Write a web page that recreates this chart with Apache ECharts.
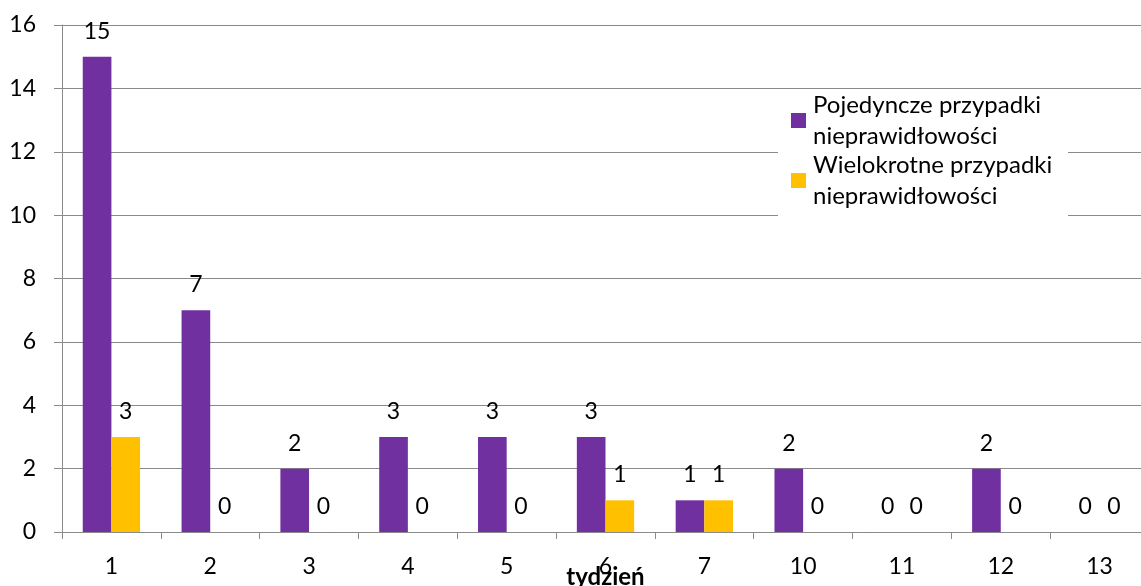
<!DOCTYPE html>
<html>
<head>
<meta charset="utf-8">
<script src="https://cdn.jsdelivr.net/npm/echarts@6/dist/echarts.min.js"></script>
<style>
  html, body { margin: 0; padding: 0; background: #fff; }
  #chart { width: 1141px; height: 586px; }
</style>
</head>
<body>
<div id="chart"></div>
<script>
// Week numbers on the category axis
const weeks = ['1', '2', '3', '4', '5', '6', '7', '10', '11', '12', '13'];
// Counts per week
const singleCases = [15, 7, 2, 3, 3, 3, 1, 2, 0, 2, 0];
const multipleCases = [3, 0, 0, 0, 0, 1, 1, 0, 0, 0, 0];
const seriesNames = ['Pojedyncze przypadki\nnieprawidłowości', 'Wielokrotne przypadki\nnieprawidłowości'];
const axisTitle = 'tydzień';

const FONT = 'Lato';
const FS = 23;
const GRAY = '#8a8a8a';

const chart = echarts.init(document.getElementById('chart'), null, { renderer: 'canvas' });

const barLabel = {
  show: true,
  position: 'top',
  distance: 14,
  color: '#000',
  fontFamily: FONT,
  fontSize: FS
};

const legendText = {
  fontFamily: FONT,
  fontSize: 24,
  lineHeight: 31,
  color: '#000',
  padding: [31, 0, 0, 2]
};

chart.setOption({
  animation: false,
  backgroundColor: '#fff',
  grid: { left: 62, right: -8, top: 25, bottom: 54, containLabel: false, outerBoundsMode: 'none' },
  xAxis: {
    type: 'category',
    data: weeks,
    name: axisTitle,
    nameLocation: 'middle',
    nameGap: 33,
    nameMoveOverlap: false,
    nameTextStyle: { fontFamily: FONT, fontSize: 24, fontWeight: 'bold', color: '#000' },
    axisLine: { show: true, lineStyle: { color: GRAY, width: 1 } },
    axisTick: { show: true, length: 7, lineStyle: { color: GRAY } },
    axisLabel: { margin: 23, color: '#000', fontFamily: FONT, fontSize: FS },
    splitLine: { show: false }
  },
  yAxis: {
    type: 'value',
    min: 0,
    max: 16,
    interval: 2,
    axisLine: { show: true, lineStyle: { color: GRAY, width: 1 } },
    axisTick: { show: true, length: 8, lineStyle: { color: GRAY } },
    axisLabel: { margin: 26, color: '#000', fontFamily: FONT, fontSize: FS },
    splitLine: { show: true, lineStyle: { color: GRAY, width: 1 } }
  },
  legend: [
    {
      data: [seriesNames[0]],
      left: 791,
      top: 74,
      padding: 0,
      z: 10,
      itemWidth: 15,
      itemHeight: 15,
      icon: 'rect',
      selectedMode: false,
      textStyle: legendText
    },
    {
      data: [seriesNames[1]],
      left: 791,
      top: 134,
      padding: 0,
      z: 10,
      itemWidth: 15,
      itemHeight: 15,
      icon: 'rect',
      selectedMode: false,
      textStyle: legendText
    }
  ],
  graphic: [
    {
      type: 'rect',
      z: 5,
      shape: { x: 778, y: 99, width: 290, height: 133 },
      style: { fill: '#fff' }
    }
  ],
  series: [
    {
      name: seriesNames[0],
      type: 'bar',
      data: singleCases,
      barGap: '0%',
      barCategoryGap: '42%',
      itemStyle: { color: '#7030A0' },
      label: barLabel
    },
    {
      name: seriesNames[1],
      type: 'bar',
      data: multipleCases,
      barGap: '0%',
      barCategoryGap: '42%',
      itemStyle: { color: '#FFC000' },
      label: barLabel
    }
  ]
});
</script>
</body>
</html>
